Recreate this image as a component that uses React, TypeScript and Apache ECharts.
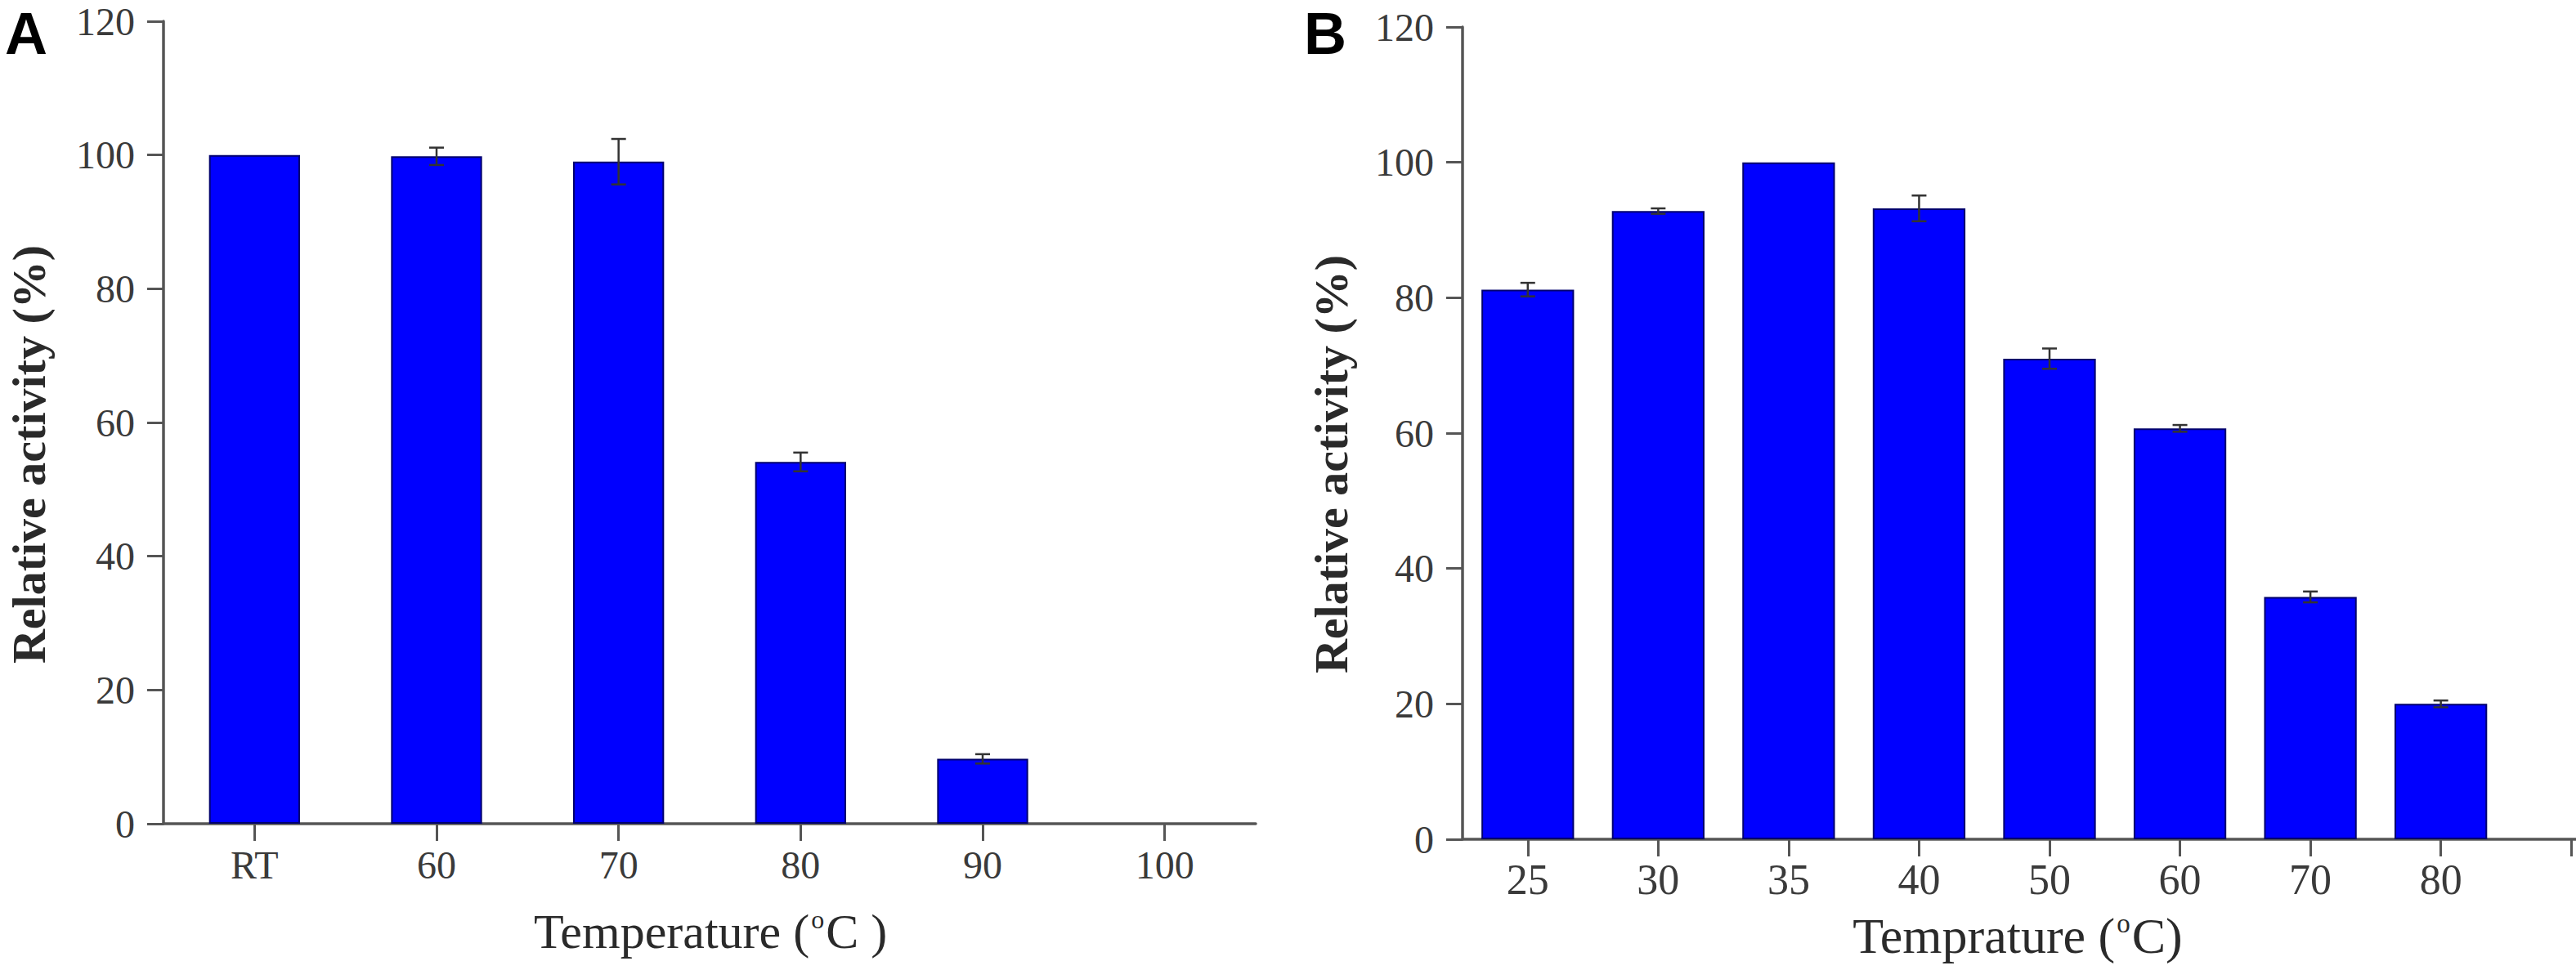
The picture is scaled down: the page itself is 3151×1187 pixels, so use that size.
import React, { useEffect, useRef } from "react";
import * as echarts from "echarts";

const categoriesA = ["RT", "60", "70", "80", "90", "100"];
const valuesA = [100, 99.8, 99.0, 54.1, 9.7, 0];
const errorsA = [0, 1.3, 3.4, 1.4, 0.7, 0];

const categoriesB = ["25", "30", "35", "40", "50", "60", "70", "80", ""];
const valuesB = [81.2, 92.8, 100, 93.2, 71.0, 60.7, 35.8, 20.0, null];
const errorsB = [1.0, 0.4, 0, 1.9, 1.5, 0.5, 0.8, 0.5, 0];

const yTicks = [0, 20, 40, 60, 80, 100, 120];

const SERIF = "'Liberation Serif', 'Times New Roman', serif";
const SANS = "'Liberation Sans', Arial, sans-serif";
const AXIS_COLOR = "#555";
const LABEL_COLOR = "#3a3a3a";

function errorData(vals: (number | null)[], errs: number[]) {
  const out: any[] = [];
  vals.forEach((v, i) => {
    if (v !== null && errs[i] > 0) out.push([i, v - errs[i], v + errs[i]]);
  });
  return out;
}

function barData(vals: (number | null)[]) {
  return vals.map((v) =>
    v === 0 ? { value: v, itemStyle: { opacity: 0 } } : v
  );
}

function renderError(params: any, api: any) {
  const x = api.value(0);
  const lo = api.coord([x, api.value(1)]);
  const hi = api.coord([x, api.value(2)]);
  const w = 9;
  const style = { stroke: "#333", lineWidth: 2.5 };
  return {
    type: "group",
    children: [
      { type: "line", shape: { x1: lo[0], y1: lo[1], x2: hi[0], y2: hi[1] }, style },
      { type: "line", shape: { x1: hi[0] - w, y1: hi[1], x2: hi[0] + w, y2: hi[1] }, style },
      { type: "line", shape: { x1: lo[0] - w, y1: lo[1], x2: lo[0] + w, y2: lo[1] }, style },
    ],
  };
}

function xAxisCfg(cats: string[], gridIndex: number, fontSize: number, margin: number) {
  return {
    type: "category",
    gridIndex,
    data: cats,
    axisLine: { show: true, lineStyle: { color: AXIS_COLOR, width: 3.5 } },
    axisTick: { show: true, alignWithLabel: true, interval: 0, length: 21, lineStyle: { color: AXIS_COLOR, width: 3 } },
    axisLabel: { interval: 0, margin, fontFamily: SERIF, fontSize, color: LABEL_COLOR },
    splitLine: { show: false },
  };
}

function yAxisCfg(gridIndex: number) {
  return {
    type: "value",
    gridIndex,
    min: yTicks[0],
    max: yTicks[yTicks.length - 1],
    interval: 20,
    axisLine: { show: true, lineStyle: { color: AXIS_COLOR, width: 3.5 } },
    axisTick: { show: true, length: 20, lineStyle: { color: AXIS_COLOR, width: 3 } },
    axisLabel: { margin: 35, fontFamily: SERIF, fontSize: 48, color: LABEL_COLOR },
    splitLine: { show: false },
  };
}

function App() {
  const ref = useRef<HTMLDivElement>(null);
  useEffect(() => {
    if (!ref.current) return;
    const chart = echarts.init(ref.current, null, { renderer: "svg" });
    const barStyle = { color: "#0000ff", borderColor: "#00006e", borderWidth: 2 };
    chart.setOption({
      animation: false,
      backgroundColor: "#ffffff",
      grid: [
        { left: 200, top: 26, width: 1336, height: 982 },
        { left: 1789, top: 33, width: 1436, height: 994 },
      ],
      xAxis: [xAxisCfg(categoriesA, 0, 48, 26), xAxisCfg(categoriesB, 1, 52, 23)],
      yAxis: [yAxisCfg(0), yAxisCfg(1)],
      series: [
        { type: "bar", xAxisIndex: 0, yAxisIndex: 0, data: barData(valuesA), barWidth: "50%", itemStyle: barStyle },
        { type: "custom", xAxisIndex: 0, yAxisIndex: 0, data: errorData(valuesA, errorsA), renderItem: renderError, z: 5 },
        { type: "bar", xAxisIndex: 1, yAxisIndex: 1, data: barData(valuesB), barWidth: "71%", itemStyle: barStyle },
        { type: "custom", xAxisIndex: 1, yAxisIndex: 1, data: errorData(valuesB, errorsB), renderItem: renderError, z: 5 },
      ],
      graphic: [
        { type: "text", left: 6, top: 5, style: { text: "A", fontFamily: SANS, fontWeight: "bold", fontSize: 72, fill: "#000" } },
        { type: "text", left: 1595, top: 5, style: { text: "B", fontFamily: SANS, fontWeight: "bold", fontSize: 72, fill: "#000" } },
        {
          type: "text", x: 35, y: 556, rotation: Math.PI / 2,
          style: { text: "Relative activity (%)", fontFamily: SERIF, fontWeight: "bold", fontSize: 58, fill: "#2a2a2a", align: "center", verticalAlign: "middle" },
        },
        {
          type: "text", x: 1628, y: 568, rotation: Math.PI / 2,
          style: { text: "Relative activity (%)", fontFamily: SERIF, fontWeight: "bold", fontSize: 58, fill: "#2a2a2a", align: "center", verticalAlign: "middle" },
        },
        {
          type: "text", x: 869, y: 1140,
          style: {
            text: "{n|Temperature (}{s|o}{n|C )}",
            align: "center", verticalAlign: "middle",
            rich: {
              n: { fontFamily: SERIF, fontSize: 60, fill: "#2a2a2a" },
              s: { fontFamily: SERIF, fontSize: 32, fill: "#2a2a2a", padding: [0, 2, 30, 2] },
            },
          },
        },
        {
          type: "text", x: 2468, y: 1145,
          style: {
            text: "{n|Temprature (}{s|o}{n|C)}",
            align: "center", verticalAlign: "middle",
            rich: {
              n: { fontFamily: SERIF, fontSize: 62, fill: "#2a2a2a" },
              s: { fontFamily: SERIF, fontSize: 33, fill: "#2a2a2a", padding: [0, 2, 31, 2] },
            },
          },
        },
      ],
    });
    return () => chart.dispose();
  }, []);
  return (
    <div style={{ position: "fixed", left: 0, top: 0, width: 3151, height: 1187, overflow: "hidden", background: "#fff" }}>
      <div ref={ref} style={{ width: 3260, height: 1187 }} />
    </div>
  );
}

export default App;
